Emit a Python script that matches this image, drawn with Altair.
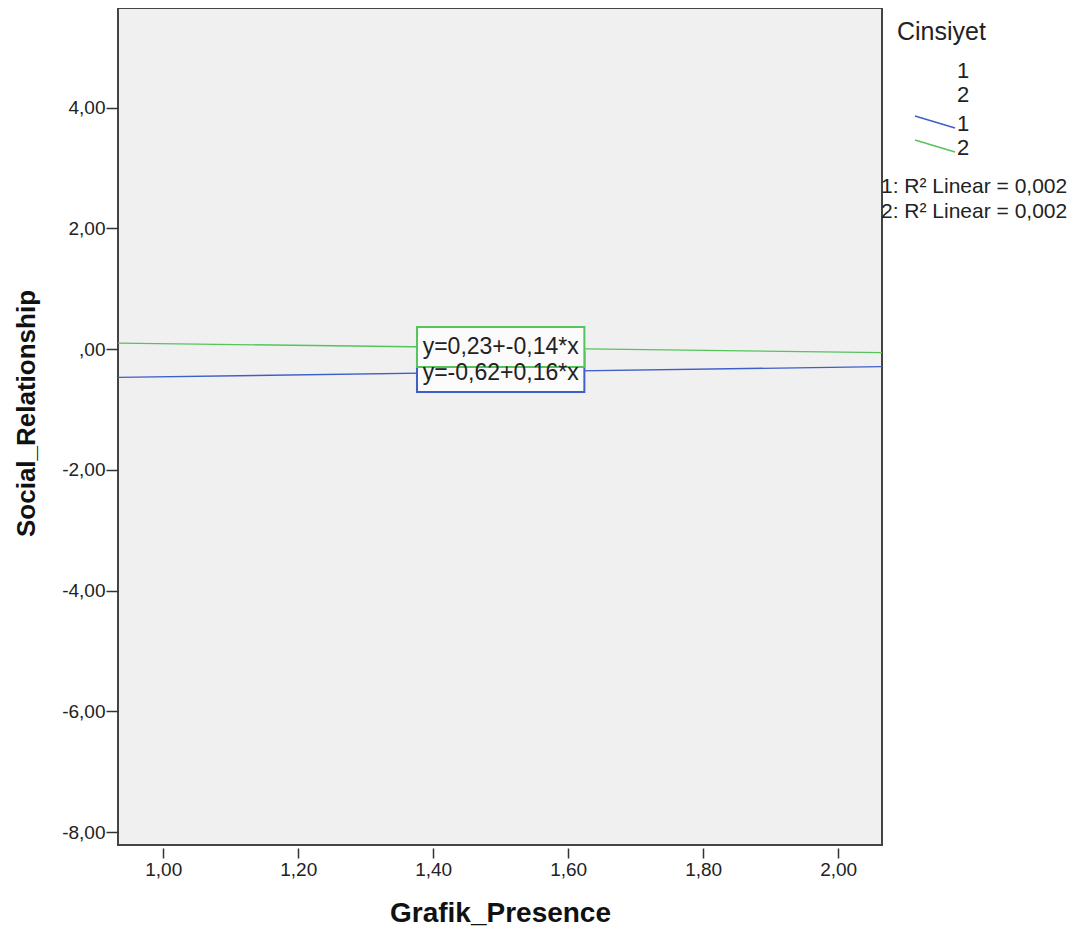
import altair as alt
import pandas as pd

# Fit lines (endpoints)
line_x = [0.933, 2.065]
line_y_1 = [-0.47, -0.29]
line_y_2 = [0.10, -0.06]
groups = ["1", "2"]
colors = ["#3f5ec8", "#55c45c"]

# Equation annotations
eq_labels = ["y=-0,62+0,16*x", "y=0,23+-0,14*x"]
eq_x = [1.5, 1.5]
eq_y = [-0.40, 0.03]
box_x = [1.376, 1.624]
box_y_top = [-0.05, 0.364]
box_y_bot = [-0.71, -0.298]

# Legend texts
legend_title = "Cinsiyet"
legend_nums = ["1", "2", "1", "2"]
r2_labels = ["1: R\u00b2 Linear = 0,002", "2: R\u00b2 Linear = 0,002"]

x_ticks = [1.0, 1.2, 1.4, 1.6, 1.8, 2.0]
y_ticks = [4, 2, 0, -2, -4, -6, -8]

W, H = 764, 837
FONT = "Liberation Sans"
NUMFMT = "replace(replace(format(datum.value, '.2f'), '.', ','), '\u2212', '-')"

lines = pd.DataFrame({
    "x": line_x + line_x,
    "y": line_y_1 + line_y_2,
    "g": [groups[0]] * 2 + [groups[1]] * 2,
})
eqs = pd.DataFrame({
    "g": groups, "label": eq_labels, "x": eq_x, "y": eq_y,
    "x1": [box_x[0]] * 2, "x2": [box_x[1]] * 2,
    "y1": box_y_top, "y2": box_y_bot,
})

xscale = alt.Scale(domain=[0.933, 2.065], nice=False, zero=False)
yscale = alt.Scale(domain=[-8.215, 5.65], nice=False, zero=False)
cscale = alt.Scale(domain=groups, range=colors)

xaxis = alt.Axis(values=x_ticks, title="Grafik_Presence", domain=False, grid=False,
                 offset=3, tickSize=10, tickColor="#333", tickWidth=1.5, labelPadding=2,
                 labelExpr=NUMFMT,
                 labelFont=FONT, labelFontSize=19, labelColor="#222",
                 titleFont=FONT, titleFontSize=28, titleFontWeight="bold",
                 titlePadding=20, titleColor="#111")
yaxis = alt.Axis(values=y_ticks, title="Social_Relationship", domain=False, grid=False,
                 tickSize=12, tickColor="#333", tickWidth=1.5, labelPadding=1,
                 labelExpr="datum.value == 0 ? ',00' : " + NUMFMT,
                 labelFont=FONT, labelFontSize=19, labelColor="#222",
                 titleFont=FONT, titleFontSize=26, titleFontWeight="bold",
                 titlePadding=22, titleColor="#111", titleY=405)

base_lines = alt.Chart(lines).mark_line(strokeWidth=1.3).encode(
    x=alt.X("x:Q", scale=xscale, axis=xaxis),
    y=alt.Y("y:Q", scale=yscale, axis=yaxis),
    color=alt.Color("g:N", scale=cscale, legend=None),
    detail="g:N",
)

boxes = alt.Chart(eqs).mark_rect(fill="#fbfbfb", strokeWidth=2).encode(
    x=alt.X("x1:Q", scale=xscale), x2="x2:Q",
    y=alt.Y("y1:Q", scale=yscale), y2="y2:Q",
    stroke=alt.Stroke("g:N", scale=cscale, legend=None),
    order=alt.Order("g:N"),
)

texts = alt.Chart(eqs).mark_text(font=FONT, fontSize=23, color="#222").encode(
    x=alt.X("x:Q", scale=xscale), y=alt.Y("y:Q", scale=yscale), text="label:N",
)

# Manual legend to the right of the plot
leg_title = alt.Chart(pd.DataFrame({"t": [legend_title]})).mark_text(
    font=FONT, fontSize=25, align="left", baseline="middle", color="#222").encode(
    x=alt.value(779), y=alt.value(24), text="t:N")
leg_nums = alt.Chart(pd.DataFrame({"t": legend_nums,
                                   "yy": [63, 87, 116, 140]})).mark_text(
    font=FONT, fontSize=22, align="center", baseline="middle", color="#222").encode(
    x=alt.value(845), y=alt.Y("yy:Q", scale=None), text="t:N")
leg_line1 = alt.Chart(pd.DataFrame({"g": [groups[0]]})).mark_rule(strokeWidth=1.5).encode(
    x=alt.value(797), x2=alt.value(837), y=alt.value(108), y2=alt.value(120),
    color=alt.Color("g:N", scale=cscale, legend=None))
leg_line2 = alt.Chart(pd.DataFrame({"g": [groups[1]]})).mark_rule(strokeWidth=1.5).encode(
    x=alt.value(797), x2=alt.value(837), y=alt.value(132), y2=alt.value(144),
    color=alt.Color("g:N", scale=cscale, legend=None))
leg_r2 = alt.Chart(pd.DataFrame({"t": r2_labels, "yy": [179, 204]})).mark_text(
    font=FONT, fontSize=21, align="left", baseline="middle", color="#222").encode(
    x=alt.value(763), y=alt.Y("yy:Q", scale=None), text="t:N")

chart = alt.layer(base_lines, boxes, texts, leg_title, leg_nums, leg_line1, leg_line2, leg_r2).properties(
    width=W, height=H,
    autosize=alt.AutoSizeParams(type="none"),
    padding={"left": 110, "top": 0, "right": 194, "bottom": 85},
).configure(
    background="white",
    view=alt.ViewConfig(fill="#f0f0f0", stroke="#444", strokeWidth=2),
)

chart.save("out.html", embed_options={"renderer": "svg", "actions": False})
